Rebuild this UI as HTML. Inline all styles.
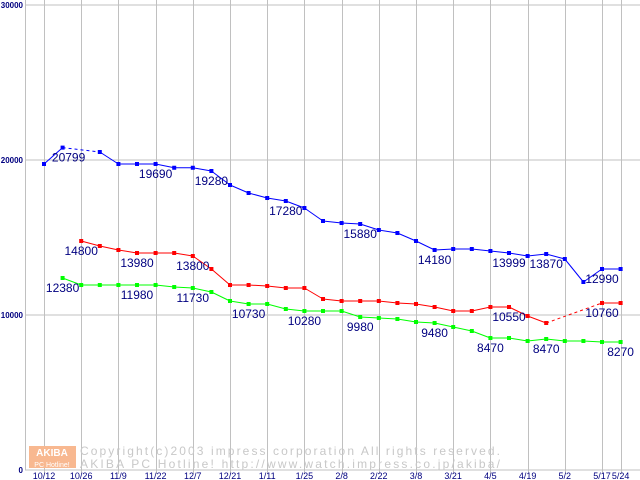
<!DOCTYPE html>
<html><head><meta charset="utf-8"><style>
html,body{margin:0;padding:0;background:#fff;width:640px;height:480px;overflow:hidden}
svg text{font-family:"Liberation Sans",sans-serif}
</style></head><body>
<svg id="chart" width="640" height="480" viewBox="0 0 640 480" xmlns="http://www.w3.org/2000/svg"></svg>
<script>
const tickLabels=["10/12","10/26","11/9","11/22","12/7","12/21","1/11","1/25","2/8","2/22","3/8","3/21","4/5","4/19","5/2","5/17","5/24"];
const tickWeeks=[0,2,4,6,8,10,12,14,16,18,20,22,24,26,28,30,31];
const yTicks=[0,10000,20000,30000];
const blueValues=[19742,20799,null,20516,19742,19742,19742,19500,19500,19290,18387,17871,17548,17355,16903,16065,15935,15871,15484,15290,14774,14194,14258,14258,14129,14000,13806,13935,13613,12129,12968,12968];
const redValues=[null,null,14774,14452,14194,14000,14000,14000,13806,12968,11935,11935,11871,11742,11742,11032,10903,10903,10903,10774,10710,10516,10258,10258,10516,10516,9935,9484,null,null,10774,10774];
const greenValues=[null,12387,11935,11935,11935,11935,11935,11806,11742,11484,10903,10710,10710,10387,10258,10258,10258,9871,9806,9742,9548,9484,9226,8968,8516,8516,8323,8452,8323,8323,8258,8258];
const labelSeries=["blue","blue","blue","blue","blue","blue","blue","blue","blue","red","red","red","green","green","green","green","green","green","green","green","green","red","red","green"];
const labelWeeks=[1,6,9,13,17,21,25,27,30,2,5,8,1,5,8,11,14,17,21,24,27,25,30,31];
const labelTexts=["20799","19690","19280","17280","15880","14180","13999","13870","12990","14800","13980","13800","12380","11980","11730","10730","10280","9980","9480","8470","8470","10550","10760","8270"];

const svg=document.getElementById('chart');
const NS='http://www.w3.org/2000/svg';
const X=k=>44+k*18.6;
const Y=v=>470-v*0.0155;
function mk(tag,attrs){const e=document.createElementNS(NS,tag);for(const a in attrs)e.setAttribute(a,attrs[a]);svg.appendChild(e);return e;}

// grid
yTicks.forEach((t,i)=>{
  const l=mk('line',{x1:25,x2:640,y1:Y(t),y2:Y(t),stroke:'#c0c0c0','stroke-width':1});
  
  
  const tx=mk('text',{x:23,y:Y(t)+3,'text-anchor':'end','font-size':8,fill:'#000080','font-weight':'bold'});
  tx.textContent=t;
  
  
});
const ax=mk('line',{x1:25.5,x2:25.5,y1:0,y2:470,stroke:'#c0c0c0','stroke-width':1});


tickWeeks.forEach((k,i)=>{
  const l=mk('line',{x1:Math.round(X(k))+.5,x2:Math.round(X(k))+.5,y1:0,y2:474,stroke:'#c0c0c0','stroke-width':1});
  
  
  const tx=mk('text',{x:X(k),y:479,'text-anchor':'middle','font-size':9,fill:'#000080'});
  tx.textContent=tickLabels[i];
  
  
});

// watermark
const logo=mk('rect',{x:29,y:446,width:47,height:22,fill:'#f8b890'});


const lt1=mk('text',{x:52,y:456,'text-anchor':'middle','font-size':10,fill:'#fff','font-weight':'bold'});
lt1.textContent='AKIBA';


const lt2=mk('text',{x:52,y:467,'text-anchor':'middle','font-size':7,fill:'#fff'});
lt2.textContent='PC Hotline!';


const w1=mk('text',{x:80,y:455,'font-size':12,fill:'#c8c8c8','font-family':'Liberation Mono, monospace','textLength':420});
w1.textContent='Copyright(c)2003 impress corporation All rights reserved.';


const w2=mk('text',{x:80,y:468,'font-size':12,fill:'#c8c8c8','font-family':'Liberation Mono, monospace','textLength':420,'xml:space':'preserve'});
w2.textContent='AKIBA PC Hotline!  http://www.watch.impress.co.jp/akiba/';



// series
const series={blue:[blueValues,'#0000ff'],red:[redValues,'#ff0000'],green:[greenValues,'#00ff00']};
for(const name in series){
  const [vals,col]=series[name];
  let prev=-1;
  vals.forEach((v,k)=>{
    if(v==null)return;
    if(prev>=0){
      const l=mk('line',{x1:X(prev),y1:Y(vals[prev]),x2:X(k),y2:Y(v),stroke:col,'stroke-width':1});
      if(k-prev>1)l.setAttribute('stroke-dasharray','3,3');
      
      
    }
    prev=k;
  });
  vals.forEach((v,k)=>{
    if(v==null)return;
    const r=mk('rect',{x:X(k)-2,y:Y(v)-2,width:4,height:4,fill:col});
    
    
  });
}
labelTexts.forEach((t,i)=>{
  const vals=series[labelSeries[i]][0];
  const k=labelWeeks[i];
  const tx=mk('text',{x:X(k)+(i===0?6:0),y:Y(vals[k])+14,'text-anchor':'middle','font-size':12,fill:'#000080'});
  tx.textContent=t;
  
  
});
</script>
</body></html>
